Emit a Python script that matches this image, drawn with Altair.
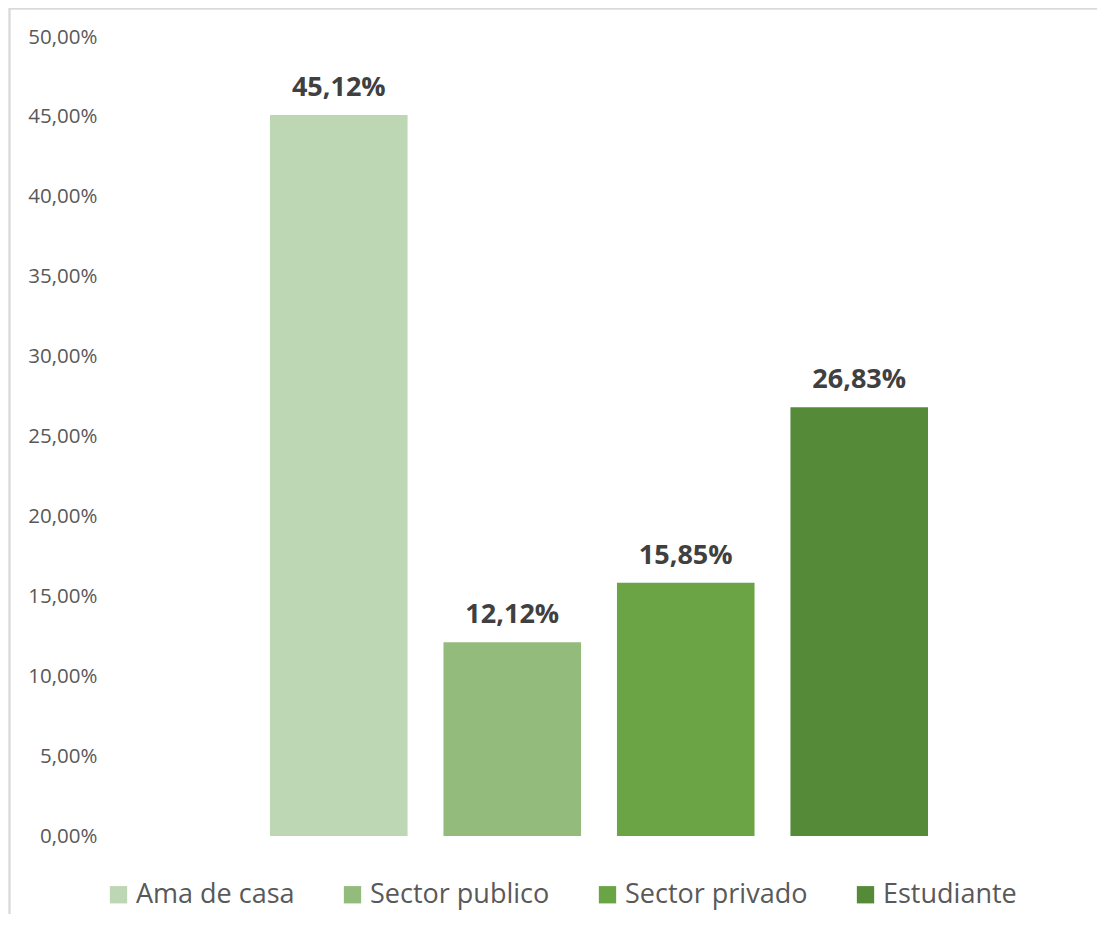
import altair as alt
import pandas as pd

categories = ["Ama de casa", "Sector publico", "Sector privado", "Estudiante"]
values = [45.12, 12.12, 15.85, 26.83]
colors = ["#BDD6B3", "#93BC7C", "#6AA444", "#558B38"]
tick_values = [0, 5, 10, 15, 20, 25, 30, 35, 40, 45, 50]

df = pd.DataFrame({"categoria": categories, "valor": values})

FONT = "Open Sans"

x_enc = alt.X("categoria:N", sort=categories, axis=None,
              scale=alt.Scale(paddingInner=0.207, paddingOuter=0.951))
y_enc = alt.Y("valor:Q", title=None,
              scale=alt.Scale(domain=[0, 50], nice=False),
              axis=alt.Axis(values=tick_values, grid=False, domain=False, ticks=False,
                            labelExpr="replace(format(datum.value, '.2f'), '.', ',') + '%'",
                            labelFont=FONT, labelFontSize=20.5, labelColor="#595959",
                            labelPadding=8))

color_enc = alt.Color("categoria:N", sort=categories,
                      scale=alt.Scale(domain=categories, range=colors),
                      legend=alt.Legend(title=None, orient="none", direction="horizontal",
                                        columns=4, legendX=0, legendY=844,
                                        symbolType="square", symbolSize=300,
                                        symbolStrokeWidth=0, symbolOpacity=1,
                                        labelFont=FONT, labelFontSize=27, labelColor="#595959",
                                        labelOffset=4, columnPadding=44, padding=0,
                                        labelLimit=400))

bars = alt.Chart(df).mark_bar().encode(x=x_enc, y=y_enc, color=color_enc)

labels = alt.Chart(df).transform_calculate(
    etiqueta="replace(format(datum.valor, '.2f'), '.', ',') + '%'"
).mark_text(font=FONT, fontSize=27, fontWeight="bold", color="#404040",
            baseline="alphabetic", dy=-19).encode(
    x=alt.X("categoria:N", sort=categories, axis=None),
    y=alt.Y("valor:Q"),
    text="etiqueta:N")

frame = alt.Chart(df).mark_rect(fill=None, stroke="#D9D9D9", strokeWidth=1.5).encode(
    x=alt.value(-95.5), x2=alt.value(1200), y=alt.value(-28.5), y2=alt.value(1000))

chart = alt.layer(frame, bars, labels).properties(
    width=988, height=799,
    background="white",
    autosize=alt.AutoSizeParams(type="none"),
    padding={"left": 97, "top": 29, "right": 4, "bottom": 78},
).configure_view(strokeWidth=0, stroke="transparent")

chart.save("out.html", embed_options={"renderer": "svg", "actions": False})
